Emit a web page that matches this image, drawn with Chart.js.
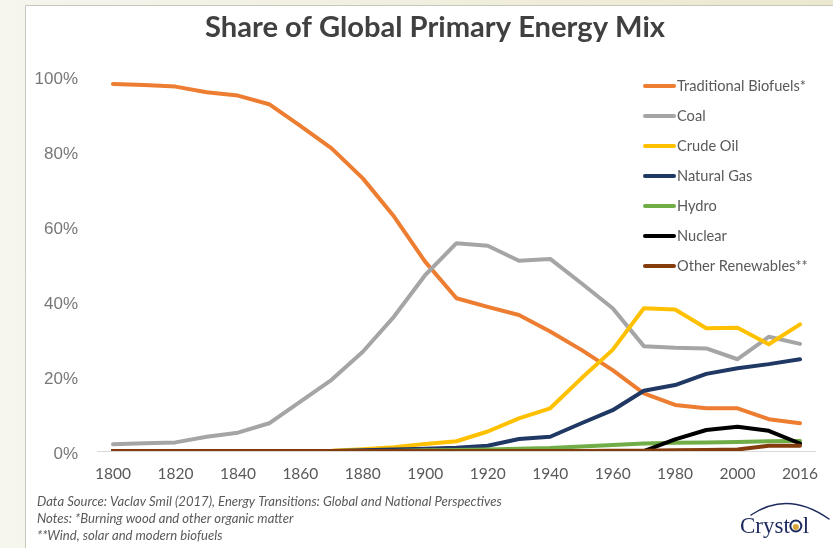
<!DOCTYPE html>
<html>
<head>
<meta charset="utf-8">
<script src="https://cdn.jsdelivr.net/npm/chart.js@4/dist/chart.umd.min.js"></script>
<style>
  html, body { margin: 0; padding: 0; background: #f4f2e6; }
  #c { display: block; }
</style>
</head>
<body>
<canvas id="c" width="833" height="548"></canvas>
<script>
// ---- data ----
const years = ['1800','1810','1820','1830','1840','1850','1860','1870','1880','1890','1900','1910','1920','1930','1940','1950','1960','1970','1980','1990','2000','2010','2016'];
const shownYears = ['1800','1820','1840','1860','1880','1900','1920','1940','1960','1980','2000','2016'];
const yTicks = [0, 20, 40, 60, 80, 100];

const biofuels = [98.0, 97.7, 97.3, 95.8, 94.9, 92.6, 86.8, 80.8, 72.8, 62.6, 50.5, 40.8, 38.5, 36.3, 31.9, 27.0, 21.6, 15.4, 12.3, 11.4, 11.4, 8.5, 7.4];
const coal     = [1.8, 2.05, 2.3, 3.8, 4.9, 7.4, 13.2, 19.0, 26.5, 35.9, 47.0, 55.5, 54.8, 50.8, 51.3, 44.8, 38.1, 28.0, 27.6, 27.4, 24.5, 30.5, 28.6];
const oil      = [0, 0, 0, 0, 0, 0, 0, 0.1, 0.5, 1.0, 1.9, 2.6, 5.2, 8.7, 11.4, 19.4, 27.0, 38.1, 37.8, 32.8, 32.9, 28.5, 33.8];
const gas      = [0, 0, 0, 0, 0, 0, 0, 0, 0.2, 0.4, 0.6, 0.9, 1.4, 3.2, 3.8, 7.4, 10.9, 16.1, 17.6, 20.6, 22.1, 23.2, 24.5];
const hydro    = [0, 0, 0, 0, 0, 0, 0, 0, 0, 0, 0.2, 0.3, 0.4, 0.6, 0.8, 1.2, 1.6, 2.0, 2.2, 2.3, 2.4, 2.6, 2.7];
const nuclear  = [0, 0, 0, 0, 0, 0, 0, 0, 0, 0, 0, 0, 0, 0, 0, 0, 0, 0, 3.1, 5.6, 6.5, 5.4, 2.0];
const otherRen = [0, 0, 0, 0, 0, 0, 0, 0, 0, 0, 0, 0, 0, 0, 0, 0, 0.1, 0.1, 0.2, 0.3, 0.4, 1.4, 1.4];

const seriesNames = ['Traditional Biofuels*', 'Coal', 'Crude Oil', 'Natural Gas', 'Hydro', 'Nuclear', 'Other Renewables**'];
const seriesData = [biofuels, coal, oil, gas, hydro, nuclear, otherRen];
const seriesColors = ['#ED7D31', '#A5A5A5', '#FFC000', '#203864', '#70AD47', '#000000', '#843C0C'];

const titleText = 'Share of Global Primary Energy Mix';
const footLines = [
  'Data Source: Vaclav Smil (2017), Energy Transitions: Global and National Perspectives',
  'Notes: *Burning wood and other organic matter',
  '**Wind, solar and modern biofuels'
];

// ---- helpers ----
function fitSize(ctx, text, family, weight, style, target) {
  ctx.font = style + ' ' + weight + ' 100px ' + family;
  const w = ctx.measureText(text).width;
  return 100 * target / w;
}

const decor = {
  id: 'decor',
  beforeDraw(chart) {
    const ctx = chart.ctx;
    ctx.save();
    const g = ctx.createLinearGradient(0, 0, 833, 0);
    g.addColorStop(0, '#f6f5ee');
    g.addColorStop(1, '#ebe8cf');
    ctx.fillStyle = g;
    ctx.fillRect(0, 0, 833, 548);
    ctx.fillStyle = '#ffffff';
    ctx.fillRect(25.5, 5.5, 833, 548);
    ctx.strokeStyle = '#c9c7bb';
    ctx.lineWidth = 1;
    ctx.beginPath();
    ctx.moveTo(25.5, 548);
    ctx.lineTo(25.5, 5.5);
    ctx.lineTo(833, 5.5);
    ctx.stroke();
    // zero axis line
    const y0 = Math.round(chart.scales.y.getPixelForValue(0)) + 0.5;
    ctx.strokeStyle = '#d9d9d9';
    ctx.beginPath();
    ctx.moveTo(97, y0);
    ctx.lineTo(816, y0);
    ctx.stroke();
    ctx.restore();
  },
  afterDraw(chart) {
    const ctx = chart.ctx;
    ctx.save();
    // title
    const ts = fitSize(ctx, titleText, 'Lato', 'bold', 'normal', 460);
    ctx.font = 'bold ' + ts.toFixed(2) + 'px Lato';
    ctx.fillStyle = '#404040';
    ctx.textAlign = 'center';
    ctx.textBaseline = 'middle';
    ctx.fillText(titleText, 435, 28);

    // legend
    const ls = fitSize(ctx, seriesNames[0], 'Lato', 'normal', 'normal', 129);
    ctx.font = ls.toFixed(2) + 'px Lato';
    ctx.textAlign = 'left';
    ctx.textBaseline = 'middle';
    chart.data.datasets.forEach((ds, i) => {
      const y = 86 + 30 * i;
      ctx.strokeStyle = ds.borderColor;
      ctx.lineWidth = 4;
      ctx.lineCap = 'round';
      ctx.beginPath();
      ctx.moveTo(645, y);
      ctx.lineTo(674, y);
      ctx.stroke();
      ctx.fillStyle = '#595959';
      ctx.fillText(ds.label, 677, y + 0.5);
    });

    // footnotes
    const fs = fitSize(ctx, footLines[0], 'Lato', 'normal', 'italic', 465);
    ctx.font = 'italic ' + fs.toFixed(2) + 'px Lato';
    ctx.fillStyle = '#595959';
    footLines.forEach((t, i) => ctx.fillText(t, 37, 502 + 17 * i));

    // logo
    ctx.strokeStyle = '#1c2a5e';
    ctx.lineWidth = 1.5;
    ctx.beginPath();
    ctx.moveTo(751, 515);
    ctx.quadraticCurveTo(788, 490, 829, 519);
    ctx.stroke();
    ctx.font = '23px "Liberation Serif"';
    ctx.fillStyle = '#1c2a5e';
    ctx.textBaseline = 'alphabetic';
    ctx.fillText('Cryst', 740, 533);
    const wC = ctx.measureText('Cryst').width;
    const ox = 740 + wC + 6;
    ctx.beginPath();
    ctx.arc(ox, 526, 5.5, 0, Math.PI * 2);
    ctx.lineWidth = 2;
    ctx.stroke();
    ctx.fillStyle = '#d9a43a';
    ctx.beginPath();
    ctx.arc(ox, 527, 3, 0, Math.PI * 2);
    ctx.fill();
    ctx.fillStyle = '#1c2a5e';
    ctx.fillText('l', ox + 7, 533);
    ctx.restore();
  }
};

const datasets = seriesNames.map((name, i) => ({
  label: name,
  data: seriesData[i],
  borderColor: seriesColors[i],
  backgroundColor: seriesColors[i],
  borderWidth: 4,
  pointRadius: 0,
  tension: 0,
  fill: false,
  borderCapStyle: 'round',
  borderJoinStyle: 'round',
  order: seriesNames.length - i
}));

new Chart(document.getElementById('c'), {
  type: 'line',
  data: { labels: years, datasets },
  options: {
    responsive: false,
    animation: false,
    devicePixelRatio: 1,
    layout: { padding: { left: 0, right: 33, top: 76.5, bottom: 57 } },
    plugins: { legend: { display: false }, title: { display: false }, tooltip: { enabled: false } },
    scales: {
      x: {
        type: 'category',
        offset: false,
        grid: { display: false, drawTicks: false },
        border: { display: false },
        ticks: {
          autoSkip: false,
          maxRotation: 0,
          minRotation: 0,
          padding: 14,
          color: '#595959',
          font: { family: 'Lato', size: 15.5 },
          callback: function (v, idx) {
            const lab = this.getLabelForValue(v);
            return shownYears.includes(lab) ? lab : '';
          }
        },
        afterFit(scale) { scale.height = 40; }
      },
      y: {
        min: 0,
        max: 100,
        afterBuildTicks(scale) { scale.ticks = yTicks.map(v => ({ value: v })); },
        grid: { display: false, drawTicks: false },
        border: { display: false },
        ticks: {
          padding: 35,
          labelOffset: 3,
          color: '#777777',
          font: { family: '"Liberation Sans"', size: 17 },
          callback: v => v + '%'
        },
        afterFit(scale) { scale.width = 113; }
      }
    }
  },
  plugins: [decor]
});
</script>
</body>
</html>
